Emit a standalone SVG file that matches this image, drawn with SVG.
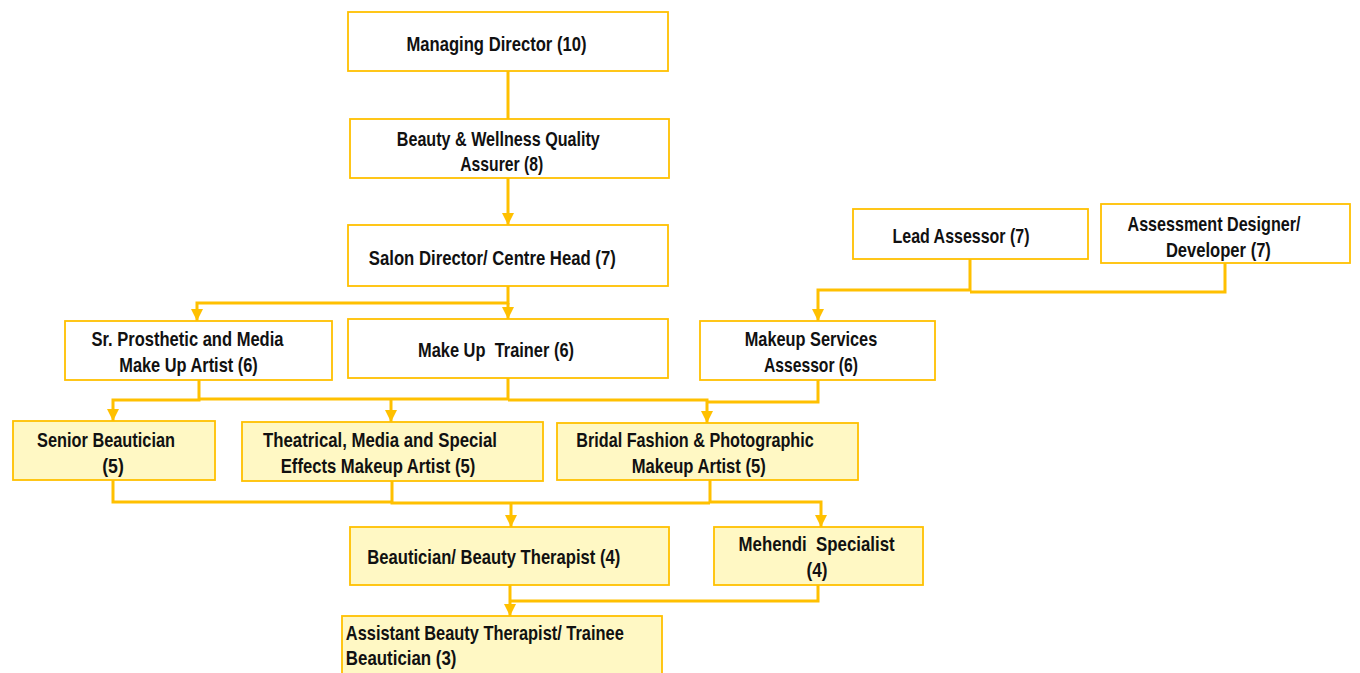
<svg xmlns="http://www.w3.org/2000/svg" width="1360" height="673" viewBox="0 0 1360 673">
<style>
.box{fill:#fff;stroke:#FFC000;stroke-width:1.8}
.yb{fill:#FFF8C4;stroke:#FFC000;stroke-width:1.8}
.t{font-family:"Liberation Sans",Arial,sans-serif;font-weight:bold;font-size:21px;fill:#111;text-anchor:middle}
.tl{text-anchor:start}
.c{fill:none;stroke:#FFC000;stroke-width:3}
</style>
<defs>
<marker id="ah" viewBox="0 0 10 10" refX="10" refY="5" markerWidth="4" markerHeight="4" markerUnits="strokeWidth" orient="auto">
<path d="M0,0 L10,5 L0,10 z" fill="#FFC000"/>
</marker>
</defs>
<rect width="1360" height="673" fill="#fff"/>
<g id="connectors">
<path class="c" d="M508 71 V119"/>
<path class="c" d="M508 178 V225" marker-end="url(#ah)"/>
<path class="c" d="M508 286 V303 H197 V321" marker-end="url(#ah)"/>
<path class="c" d="M508 303 V319" marker-end="url(#ah)"/>
<path class="c" d="M970 259 V290 H818 V321" marker-end="url(#ah)"/>
<path class="c" d="M1225 263 V292 H970"/>
<path class="c" d="M199 380 V400 H113 V421" marker-end="url(#ah)"/>
<path class="c" d="M508 378 V399 H199"/>
<path class="c" d="M391 399 V422" marker-end="url(#ah)"/>
<path class="c" d="M508 400 H707 V423" marker-end="url(#ah)"/>
<path class="c" d="M818 380 V402 H707"/>
<path class="c" d="M113 480 V502 H392"/>
<path class="c" d="M392 481 V503 H710"/>
<path class="c" d="M710 480 V502 H821 V527" marker-end="url(#ah)"/>
<path class="c" d="M511 503 V527" marker-end="url(#ah)"/>
<path class="c" d="M818 585 V601 H510"/>
<path class="c" d="M510 585 V616" marker-end="url(#ah)"/>
</g>
<g id="managing-director"><rect class="box" x="348" y="12" width="320" height="59"/><text class="t" x="496.5" y="50.5" textLength="180" lengthAdjust="spacingAndGlyphs">Managing Director (10)</text></g>
<g id="quality-assurer"><rect class="box" x="350" y="119" width="319" height="59"/><text class="t" x="498.3" y="145.5" textLength="203" lengthAdjust="spacingAndGlyphs">Beauty &amp; Wellness Quality</text><text class="t" x="501.7" y="170.5" textLength="83" lengthAdjust="spacingAndGlyphs">Assurer (8)</text></g>
<g id="salon-director"><rect class="box" x="348" y="225" width="320" height="61"/><text class="t" x="492.3" y="265" textLength="247" lengthAdjust="spacingAndGlyphs">Salon Director/ Centre Head (7)</text></g>
<g id="sr-prosthetic"><rect class="box" x="65" y="321" width="267" height="59"/><text class="t" x="187.5" y="346" textLength="192" lengthAdjust="spacingAndGlyphs">Sr. Prosthetic and Media</text><text class="t" x="188.5" y="372" textLength="138.5" lengthAdjust="spacingAndGlyphs">Make Up Artist (6)</text></g>
<g id="makeup-trainer"><rect class="box" x="348" y="319" width="320" height="59"/><text class="t" x="496" y="357" textLength="156" lengthAdjust="spacingAndGlyphs" xml:space="preserve">Make Up  Trainer (6)</text></g>
<g id="makeup-services-assessor"><rect class="box" x="700" y="321" width="235" height="59"/><text class="t" x="811" y="346" textLength="132.5" lengthAdjust="spacingAndGlyphs">Makeup Services</text><text class="t" x="811" y="372" textLength="94" lengthAdjust="spacingAndGlyphs">Assessor (6)</text></g>
<g id="lead-assessor"><rect class="box" x="853" y="209" width="235" height="50"/><text class="t" x="961" y="243" textLength="137" lengthAdjust="spacingAndGlyphs">Lead Assessor (7)</text></g>
<g id="assessment-designer"><rect class="box" x="1101" y="204" width="249" height="59"/><text class="t" x="1214" y="231" textLength="173" lengthAdjust="spacingAndGlyphs">Assessment Designer/</text><text class="t" x="1218.4" y="256.5" textLength="105" lengthAdjust="spacingAndGlyphs">Developer (7)</text></g>
<g id="senior-beautician"><rect class="yb" x="13" y="421" width="202" height="59"/><text class="t" x="106" y="447" textLength="138" lengthAdjust="spacingAndGlyphs">Senior Beautician</text><text class="t" x="113" y="472.5" textLength="21.6" lengthAdjust="spacingAndGlyphs">(5)</text></g>
<g id="theatrical"><rect class="yb" x="242" y="422" width="301" height="59"/><text class="t" x="380" y="447" textLength="234" lengthAdjust="spacingAndGlyphs">Theatrical, Media and Special</text><text class="t" x="378" y="473" textLength="194.5" lengthAdjust="spacingAndGlyphs">Effects Makeup Artist (5)</text></g>
<g id="bridal"><rect class="yb" x="557" y="423" width="301" height="57"/><text class="t" x="695" y="447" textLength="237.5" lengthAdjust="spacingAndGlyphs">Bridal Fashion &amp; Photographic</text><text class="t" x="698.7" y="473" textLength="134" lengthAdjust="spacingAndGlyphs">Makeup Artist (5)</text></g>
<g id="beautician"><rect class="yb" x="350" y="527" width="319" height="58"/><text class="t" x="493.8" y="564" textLength="253" lengthAdjust="spacingAndGlyphs">Beautician/ Beauty Therapist (4)</text></g>
<g id="mehendi"><rect class="yb" x="714" y="527" width="209" height="58"/><text class="t" x="816.6" y="551" textLength="156" lengthAdjust="spacingAndGlyphs" xml:space="preserve">Mehendi  Specialist</text><text class="t" x="817" y="577" textLength="21" lengthAdjust="spacingAndGlyphs">(4)</text></g>
<g id="assistant"><rect class="yb" x="342" y="616" width="320" height="62"/><text class="t tl" x="345.8" y="640" textLength="278" lengthAdjust="spacingAndGlyphs">Assistant Beauty Therapist/ Trainee</text><text class="t tl" x="345.8" y="665" textLength="110.7" lengthAdjust="spacingAndGlyphs">Beautician (3)</text></g>
</svg>
